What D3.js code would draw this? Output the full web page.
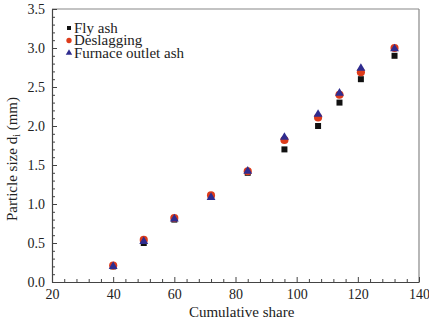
<!DOCTYPE html>
<html>
<head>
<meta charset="utf-8">
<script src="https://cdn.jsdelivr.net/npm/d3@7"></script>
<style>
  body { margin: 0; background: #fff; }
  svg text { font-family: 'Liberation Serif', 'Times New Roman', serif; fill: #222; }
</style>
</head>
<body>
<div id="chart"></div>
<script>
var shares = [40, 50, 60, 72, 84, 96, 107, 114, 121, 132];
var flyAsh = [0.2, 0.5, 0.8, 1.1, 1.4, 1.7, 2.0, 2.3, 2.6, 2.9];
var deslagging = [0.21, 0.54, 0.82, 1.11, 1.42, 1.82, 2.11, 2.4, 2.69, 3.0];
var furnaceAsh = [0.2, 0.52, 0.81, 1.085, 1.42, 1.855, 2.15, 2.42, 2.74, 2.99];
var seriesNames = ["Fly ash", "Deslagging", "Furnace outlet ash"];
var xTicks = [20, 40, 60, 80, 100, 120, 140];
var yTicks = [0, 0.5, 1.0, 1.5, 2.0, 2.5, 3.0, 3.5];

var serif = "'Liberation Serif', 'Times New Roman', serif";
var width = 429, height = 323;
var margin = {top: 9, right: 10, bottom: 41, left: 52};
var w = width - margin.left - margin.right;
var h = height - margin.top - margin.bottom;

var svg = d3.select('#chart').append('svg')
  .attr('width', width).attr('height', height)
  .attr('font-family', serif);

var g = svg.append('g').attr('transform', 'translate(' + margin.left + ',' + margin.top + ')');

var x = d3.scaleLinear().domain([20, 140]).range([0, w]);
var y = d3.scaleLinear().domain([0, 3.5]).range([h, 0]);

// frame: top and right in grey
g.append('line').attr('x1', 0).attr('x2', w).attr('y1', 0).attr('y2', 0)
  .attr('stroke', '#888').attr('stroke-width', 1.2);
g.append('line').attr('x1', w).attr('x2', w).attr('y1', 0).attr('y2', h)
  .attr('stroke', '#888').attr('stroke-width', 1.2);

// minor ticks
var xMinor = d3.range(20, 141, 4).filter(function(v) { return v % 20 !== 0; });
var yMinor = d3.range(0, 36, 1).map(function(v) { return v / 10; }).filter(function(v, i) { return i % 5 !== 0; });

g.append('g').attr('transform', 'translate(0,' + h + ')')
  .call(d3.axisBottom(x).tickValues(xMinor).tickSize(-3).tickFormat(''))
  .call(function(s) { s.select('.domain').remove(); s.selectAll('line').attr('stroke', '#444'); });
g.append('g')
  .call(d3.axisLeft(y).tickValues(yMinor).tickSize(-3).tickFormat(''))
  .call(function(s) { s.select('.domain').remove(); s.selectAll('line').attr('stroke', '#444'); });

var xAxis = g.append('g').attr('transform', 'translate(0,' + h + ')')
  .call(d3.axisBottom(x).tickValues(xTicks).tickSize(-5).tickSizeOuter(0).tickPadding(7));
var yAxis = g.append('g')
  .call(d3.axisLeft(y).tickValues(yTicks).tickSize(-5).tickSizeOuter(0).tickPadding(7).tickFormat(d3.format('.1f')));

[xAxis, yAxis].forEach(function(a) {
  a.attr('font-family', serif);
  a.select('.domain').attr('stroke', '#444').attr('stroke-width', 1.2);
  a.selectAll('line').attr('stroke', '#444');
  a.selectAll('text').attr('font-size', 14).attr('fill', '#222');
});

// axis titles
svg.append('text').attr('x', margin.left + x(82)).attr('y', 317)
  .attr('text-anchor', 'middle').attr('font-size', 15).text('Cumulative share');

var yl = svg.append('text').attr('transform', 'translate(17,159) rotate(-90)')
  .attr('text-anchor', 'middle').attr('font-size', 15);
yl.append('tspan').text('Particle size d');
yl.append('tspan').attr('font-size', 10).attr('dy', 3).text('i');
yl.append('tspan').attr('dy', -3).text(' (mm)');

// data points
var colors = ['#111', '#dd3b1a', '#2f2c8f'];
var shapes = [d3.symbolSquare, d3.symbolCircle, d3.symbolTriangle];
var sizes = [36, 52, 34];
var allSeries = [flyAsh, deslagging, furnaceAsh];

allSeries.forEach(function(vals, k) {
  g.append('g').selectAll('path').data(vals).enter().append('path')
    .attr('d', d3.symbol().type(shapes[k]).size(sizes[k]))
    .attr('transform', function(d, i) { return 'translate(' + x(shares[i]) + ',' + y(d) + ')'; })
    .attr('fill', colors[k]);
});

// legend
var legSizes = [16, 22, 18];
var legend = svg.append('g').attr('transform', 'translate(69,28)')
  .selectAll('.legends').data(seriesNames).enter().append('g')
  .attr('transform', function(d, i) { return 'translate(0,' + i * 12.5 + ')'; });

legend.append('path')
  .attr('d', function(d, i) { return d3.symbol().type(shapes[i]).size(legSizes[i])(); })
  .attr('fill', function(d, i) { return colors[i]; });
legend.append('text').attr('x', 5).attr('y', 4.5).attr('font-size', 15)
  .text(function(d) { return d; });
</script>
</body>
</html>
